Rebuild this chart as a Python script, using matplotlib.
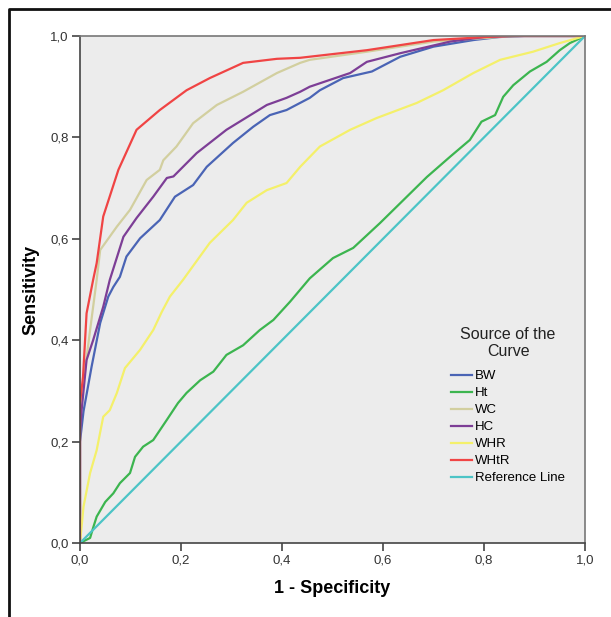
import numpy as np
import matplotlib.pyplot as plt
import matplotlib.lines as mlines

plt.rcParams['font.family'] = ['Liberation Sans', 'DejaVu Sans']

# ROC curves: 1 - specificity (fpr) vs sensitivity (tpr)
bw_fpr = [0, 0.0, 0.007, 0.023, 0.04, 0.056, 0.066, 0.079, 0.092, 0.119, 0.158, 0.188, 0.224, 0.251,
          0.303, 0.343, 0.376, 0.409, 0.455, 0.475, 0.521, 0.578, 0.634, 0.70, 0.779, 0.83, 0.88, 1.0]
bw_tpr = [0, 0.20, 0.26, 0.348, 0.434, 0.486, 0.505, 0.525, 0.565, 0.601, 0.637, 0.683, 0.706, 0.742,
          0.789, 0.821, 0.844, 0.854, 0.878, 0.893, 0.917, 0.93, 0.959, 0.979, 0.992, 0.998, 1.0, 1.0]

ht_fpr = [0, 0.02, 0.026, 0.033, 0.05, 0.066, 0.079, 0.099, 0.109, 0.125, 0.145, 0.172, 0.194, 0.211,
          0.238, 0.264, 0.29, 0.323, 0.356, 0.383, 0.416, 0.455, 0.501, 0.541, 0.594, 0.64, 0.687,
          0.733, 0.772, 0.795, 0.822, 0.838, 0.858, 0.891, 0.924, 0.95, 0.97, 1.0]
ht_tpr = [0, 0.01, 0.03, 0.052, 0.081, 0.098, 0.118, 0.138, 0.17, 0.19, 0.203, 0.243, 0.276, 0.296,
          0.321, 0.338, 0.371, 0.39, 0.42, 0.44, 0.476, 0.522, 0.562, 0.582, 0.631, 0.676, 0.722,
          0.762, 0.795, 0.831, 0.844, 0.88, 0.903, 0.93, 0.949, 0.972, 0.986, 1.0]

wc_fpr = [0, 0.0, 0.006, 0.02, 0.033, 0.04, 0.073, 0.099, 0.132, 0.158, 0.165, 0.191, 0.224, 0.271,
          0.323, 0.39, 0.436, 0.455, 0.568, 0.70, 0.83, 0.87, 1.0]
wc_tpr = [0, 0.24, 0.31, 0.42, 0.519, 0.578, 0.624, 0.657, 0.716, 0.736, 0.755, 0.782, 0.828, 0.864,
          0.89, 0.927, 0.947, 0.953, 0.969, 0.989, 0.998, 1.0, 1.0]

hc_fpr = [0, 0.0, 0.003, 0.013, 0.026, 0.046, 0.059, 0.086, 0.112, 0.145, 0.172, 0.185, 0.231, 0.29,
          0.37, 0.409, 0.436, 0.455, 0.535, 0.568, 0.634, 0.733, 0.80, 0.86, 1.0]
hc_tpr = [0, 0.22, 0.26, 0.361, 0.40, 0.466, 0.519, 0.604, 0.641, 0.683, 0.72, 0.723, 0.769, 0.815,
          0.864, 0.878, 0.89, 0.9, 0.927, 0.949, 0.966, 0.989, 0.998, 1.0, 1.0]

whr_fpr = [0, 0.007, 0.02, 0.033, 0.046, 0.059, 0.073, 0.089, 0.119, 0.145, 0.162, 0.178, 0.204, 0.257,
           0.303, 0.33, 0.37, 0.409, 0.436, 0.475, 0.535, 0.587, 0.667, 0.719, 0.779, 0.832, 0.897,
           0.95, 1.0]
whr_tpr = [0, 0.072, 0.138, 0.183, 0.249, 0.262, 0.296, 0.345, 0.381, 0.42, 0.456, 0.486, 0.519, 0.592,
           0.637, 0.671, 0.696, 0.71, 0.742, 0.782, 0.815, 0.838, 0.868, 0.893, 0.927, 0.953, 0.969,
           0.986, 1.0]

whtr_fpr = [0, 0.0, 0.006, 0.013, 0.026, 0.033, 0.046, 0.076, 0.112, 0.158, 0.211, 0.257, 0.323, 0.39,
            0.436, 0.568, 0.70, 0.805, 0.85, 1.0]
whtr_tpr = [0, 0.276, 0.328, 0.453, 0.519, 0.552, 0.644, 0.736, 0.815, 0.854, 0.893, 0.917, 0.947, 0.955,
            0.957, 0.972, 0.992, 0.998, 1.0, 1.0]

ref_x = [0, 1]
ref_y = [0, 1]

labels = ['BW', 'Ht', 'WC', 'HC', 'WHR', 'WHtR', 'Reference Line']
colors = ['#4a64b5', '#3cb54f', '#d2cf9f', '#7d3e96', '#f4f06a', '#f04444', '#4cc4c6']
ticks = [0, 0.2, 0.4, 0.6, 0.8, 1.0]
tick_labels = ['0,0', '0,2', '0,4', '0,6', '0,8', '1,0']

fig = plt.figure(figsize=(6.11, 6.17), dpi=100)
ax = fig.add_axes([80 / 611, 74 / 617, 505 / 611, 507 / 617])
ax.set_facecolor('#ececec')

series = [(bw_fpr, bw_tpr), (ht_fpr, ht_tpr), (wc_fpr, wc_tpr), (hc_fpr, hc_tpr),
          (whr_fpr, whr_tpr), (whtr_fpr, whtr_tpr), (ref_x, ref_y)]
for (x, y), lab, c in zip(series, labels, colors):
    ax.plot(x, y, color=c, linewidth=1.6, label=lab)

ax.set_xlim(0, 1)
ax.set_ylim(0, 1)
ax.set_xticks(ticks)
ax.set_xticklabels(tick_labels)
ax.set_yticks(ticks)
ax.set_yticklabels(tick_labels)
ax.tick_params(direction='out', length=6, width=1.2, color='#444444',
               labelsize=9.5, labelcolor='#333333', pad=2)
for side in ['left', 'bottom']:
    ax.spines[side].set_color('#444444')
    ax.spines[side].set_linewidth(1.2)
for side in ['top', 'right']:
    ax.spines[side].set_color('#777777')
    ax.spines[side].set_linewidth(1.2)

ax.set_xlabel('1 - Specificity', fontsize=13, fontweight='bold', labelpad=10)
ax.set_ylabel('Sensitivity', fontsize=13, fontweight='bold', labelpad=8)

handles = [mlines.Line2D([], [], color=c, linewidth=1.6) for c in colors]
leg = ax.legend(handles, labels, title='Source of the\nCurve', loc='upper left',
                bbox_to_anchor=(0.724, 0.437), frameon=False, fontsize=9.5,
                title_fontsize=11.5, handlelength=1.6, handletextpad=0.25,
                labelspacing=0.36, borderaxespad=0)
leg.get_title().set_multialignment('center')
leg.get_title().set_color('#222222')
leg._legend_box.sep = 8

# outer frame of the exported chart
fig.add_artist(mlines.Line2D([8.5 / 611, 8.5 / 611, 1.0], [0, 1 - 9 / 617, 1 - 9 / 617],
                             transform=fig.transFigure, color='#111111', linewidth=2))

fig.savefig('out.png', dpi=100)
